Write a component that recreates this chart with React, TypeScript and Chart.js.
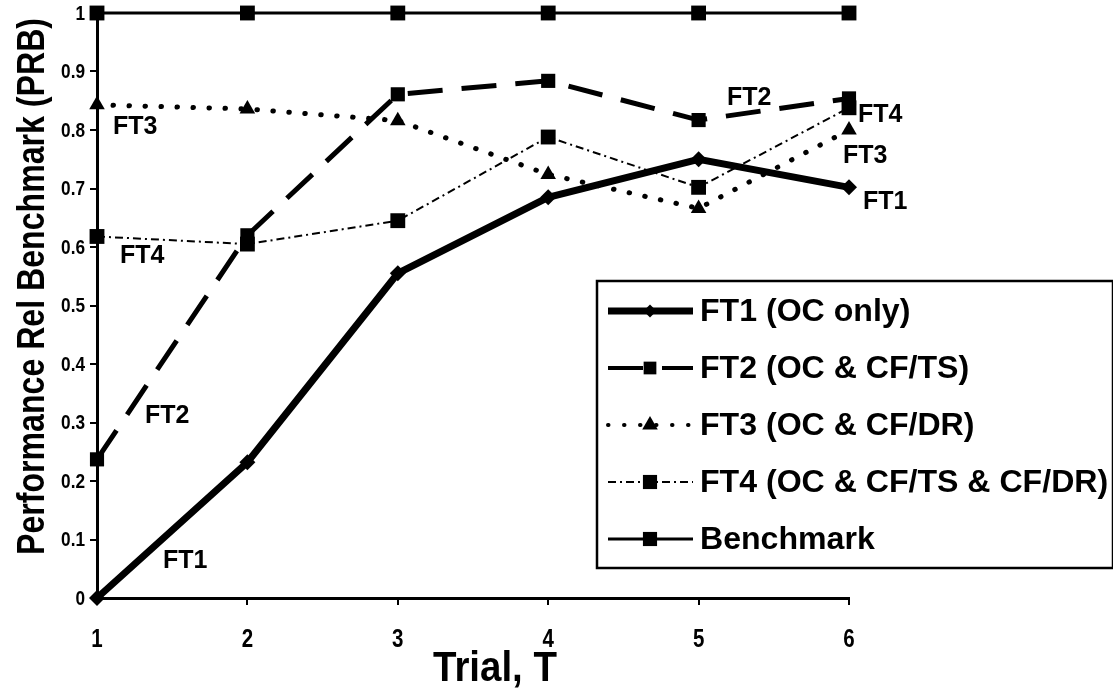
import React, { useEffect, useRef } from 'react';
import { Chart, registerables } from 'chart.js';

Chart.register(...registerables);

// ---------- data ----------
const trials = [1, 2, 3, 4, 5, 6];
const ft1Values = [0, 0.232, 0.555, 0.685, 0.75, 0.702];
const ft2Values = [0.237, 0.62, 0.861, 0.884, 0.817, 0.854];
const ft3Values = [0.843, 0.836, 0.816, 0.724, 0.666, 0.8];
const ft4Values = [0.618, 0.605, 0.645, 0.788, 0.702, 0.838];
const benchmarkValues = [1, 1, 1, 1, 1, 1];

const seriesNames = [
  'FT1 (OC only)',
  'FT2 (OC & CF/TS)',
  'FT3 (OC & CF/DR)',
  'FT4 (OC & CF/TS & CF/DR)',
  'Benchmark',
];

const xTickLabels = ['1', '2', '3', '4', '5', '6'];
const yTickValues = [0, 0.1, 0.2, 0.3, 0.4, 0.5, 0.6, 0.7, 0.8, 0.9, 1];
const yTickLabels = ['0', '0.1', '0.2', '0.3', '0.4', '0.5', '0.6', '0.7', '0.8', '0.9', '1'];

const xTitle = 'Trial, T';
const yTitle = 'Performance Rel Benchmark (PRB)';

// in-plot curve labels (text + anchor in data coordinates)
const curveLabelTexts = ['FT3', 'FT4', 'FT2', 'FT1', 'FT2', 'FT4', 'FT3', 'FT1'];
const curveLabelX = [1.106, 1.153, 1.319, 1.439, 5.189, 6.06, 5.96, 6.093];
const curveLabelY = [0.805, 0.585, 0.311, 0.063, 0.855, 0.826, 0.756, 0.677];

// ---------- styling ----------
const SANS = '"Liberation Sans", Arial, Helvetica, sans-serif';
const NARROW_SCALE = 0.82;

type Style = {
  width: number;
  dash: number[];
  cap: CanvasLineCap;
  point: string;
  radius: number;
  legendRadius: number;
  legendWidth: number;
};

const styles: Style[] = [
  { width: 7, dash: [], cap: 'butt', point: 'rectRot', radius: 8, legendRadius: 6.5, legendWidth: 7 },
  { width: 5, dash: [35, 19], cap: 'butt', point: 'rect', radius: 10, legendRadius: 9, legendWidth: 4 },
  { width: 5, dash: [0.5, 15.5], cap: 'round', point: 'triangle', radius: 9, legendRadius: 9, legendWidth: 4 },
  { width: 2, dash: [8, 4, 2, 4], cap: 'butt', point: 'rect', radius: 10.5, legendRadius: 10, legendWidth: 2 },
  { width: 3, dash: [], cap: 'butt', point: 'rect', radius: 10.5, legendRadius: 10, legendWidth: 3 },
];

function drawMarker(ctx: CanvasRenderingContext2D, style: string, x: number, y: number, r: number) {
  ctx.beginPath();
  if (style === 'rect') {
    const s = r * Math.SQRT1_2;
    ctx.rect(x - s, y - s, 2 * s, 2 * s);
  } else if (style === 'rectRot') {
    ctx.moveTo(x, y - r);
    ctx.lineTo(x + r, y);
    ctx.lineTo(x, y + r);
    ctx.lineTo(x - r, y);
    ctx.closePath();
  } else if (style === 'triangle') {
    ctx.moveTo(x, y - r);
    ctx.lineTo(x + 0.866 * r, y + 0.5 * r);
    ctx.lineTo(x - 0.866 * r, y + 0.5 * r);
    ctx.closePath();
  }
  ctx.fill();
}

function narrowText(ctx: CanvasRenderingContext2D, text: string, x: number, y: number, align: CanvasTextAlign) {
  ctx.save();
  ctx.translate(x, y);
  ctx.scale(NARROW_SCALE, 1);
  ctx.textAlign = align;
  ctx.textBaseline = 'middle';
  ctx.fillText(text, 0, 0);
  ctx.restore();
}

const overlayPlugin = {
  id: 'overlay',
  afterDraw(chart: any) {
    const { ctx, chartArea, scales } = chart;
    const xs = scales.x;
    const ys = scales.y;
    ctx.save();
    ctx.fillStyle = '#000';
    ctx.strokeStyle = '#000';

    // tick labels (Arial-Narrow-like)
    ctx.font = `bold 25px ${SANS}`;
    trials.forEach((t, i) => {
      narrowText(ctx, xTickLabels[i], xs.getPixelForValue(t), 640, 'center');
    });
    ctx.font = `bold 21px ${SANS}`;
    yTickValues.forEach((v, i) => {
      narrowText(ctx, yTickLabels[i], 85, ys.getPixelForValue(v) + 1, 'right');
    });

    // y-axis title
    ctx.save();
    ctx.translate(34, (chartArea.top + chartArea.bottom) / 2 - 19);
    ctx.rotate(-Math.PI / 2);
    ctx.font = `bold 38px ${SANS}`;
    ctx.textAlign = 'center';
    ctx.textBaseline = 'middle';
    ctx.fillText(yTitle, 0, 0, 537);
    ctx.restore();

    // x-axis title
    ctx.font = `bold 42px ${SANS}`;
    ctx.textAlign = 'center';
    ctx.textBaseline = 'middle';
    ctx.fillText(xTitle, (chartArea.left + chartArea.right) / 2 + 22, 669, 124);

    // curve labels
    ctx.font = `bold 25px ${SANS}`;
    ctx.textAlign = 'left';
    ctx.textBaseline = 'middle';
    curveLabelTexts.forEach((t, i) => {
      ctx.fillText(t, xs.getPixelForValue(curveLabelX[i]), ys.getPixelForValue(curveLabelY[i]));
    });

    // legend box
    const boxL = 597, boxT = 281, boxR = 1113, boxB = 568;
    ctx.fillStyle = '#fff';
    ctx.fillRect(boxL, boxT, boxR - boxL, boxB - boxT);
    ctx.lineWidth = 2.5;
    ctx.strokeStyle = '#000';
    ctx.setLineDash([]);
    ctx.strokeRect(boxL, boxT, boxR - boxL, boxB - boxT);

    const rowY0 = boxT + 30;
    const rowStep = 57;
    seriesNames.forEach((name, i) => {
      const st = styles[i];
      const y = rowY0 + i * rowStep;
      ctx.save();
      ctx.beginPath();
      ctx.lineWidth = st.legendWidth;
      ctx.lineCap = st.cap;
      ctx.setLineDash(st.dash);
      ctx.lineDashOffset = 0;
      ctx.strokeStyle = '#000';
      ctx.moveTo(608, y);
      ctx.lineTo(693, y);
      ctx.stroke();
      ctx.restore();
      ctx.fillStyle = '#000';
      drawMarker(ctx, st.point, 650, y, st.legendRadius);
      ctx.save();
      ctx.translate(700, y + 1);
      ctx.scale(1.035, 1);
      ctx.font = `bold 31px ${SANS}`;
      ctx.textAlign = 'left';
      ctx.textBaseline = 'middle';
      ctx.fillText(name, 0, 0);
      ctx.restore();
    });

    ctx.restore();
  },
};

const seriesValues = [ft1Values, ft2Values, ft3Values, ft4Values, benchmarkValues];

export default function App() {
  const canvasRef = useRef<HTMLCanvasElement | null>(null);

  useEffect(() => {
    if (!canvasRef.current) return;
    const datasets = seriesValues.map((vals, i) => {
      const st = styles[i];
      return {
        label: seriesNames[i],
        data: trials.map((t, j) => ({ x: t, y: vals[j] })),
        borderColor: '#000',
        backgroundColor: '#000',
        borderWidth: st.width,
        borderDash: st.dash,
        borderCapStyle: st.cap,
        borderJoinStyle: 'miter',
        pointStyle: st.point,
        pointRadius: st.radius,
        pointBorderWidth: 0,
        pointBackgroundColor: '#000',
        pointBorderColor: '#000',
        tension: 0,
        fill: false,
        clip: false,
      };
    });

    const chart = new Chart(canvasRef.current, {
      type: 'line',
      data: { datasets } as any,
      plugins: [overlayPlugin],
      options: {
        animation: false,
        responsive: false,
        maintainAspectRatio: false,
        events: [],
        layout: { padding: { left: 0, right: 264, top: 13, bottom: 0 } },
        plugins: {
          legend: { display: false },
          tooltip: { enabled: false },
          title: { display: false },
        },
        scales: {
          x: {
            type: 'linear',
            min: 1,
            max: 6,
            afterFit: (s: any) => { s.height = 96; },
            afterBuildTicks: (s: any) => { s.ticks = trials.map((v) => ({ value: v })); },
            ticks: { display: false },
            grid: {
              drawOnChartArea: false,
              drawTicks: true,
              tickLength: 7,
              color: '#000',
              lineWidth: 2,
            },
            border: { display: true, color: '#000', width: 3 },
          },
          y: {
            type: 'linear',
            min: 0,
            max: 1,
            afterFit: (s: any) => { s.width = 97; },
            afterBuildTicks: (s: any) => { s.ticks = yTickValues.map((v) => ({ value: v })); },
            ticks: { display: false },
            grid: {
              drawOnChartArea: false,
              drawTicks: true,
              tickLength: 7,
              color: '#000',
              lineWidth: 2,
            },
            border: { display: true, color: '#000', width: 3 },
          },
        },
      } as any,
    });
    return () => chart.destroy();
  }, []);

  return (
    <div style={{ position: 'absolute', left: 0, top: 0, width: 1113, height: 694, background: '#fff' }}>
      <canvas ref={canvasRef} width={1113} height={694} style={{ width: 1113, height: 694, display: 'block' }} />
    </div>
  );
}
